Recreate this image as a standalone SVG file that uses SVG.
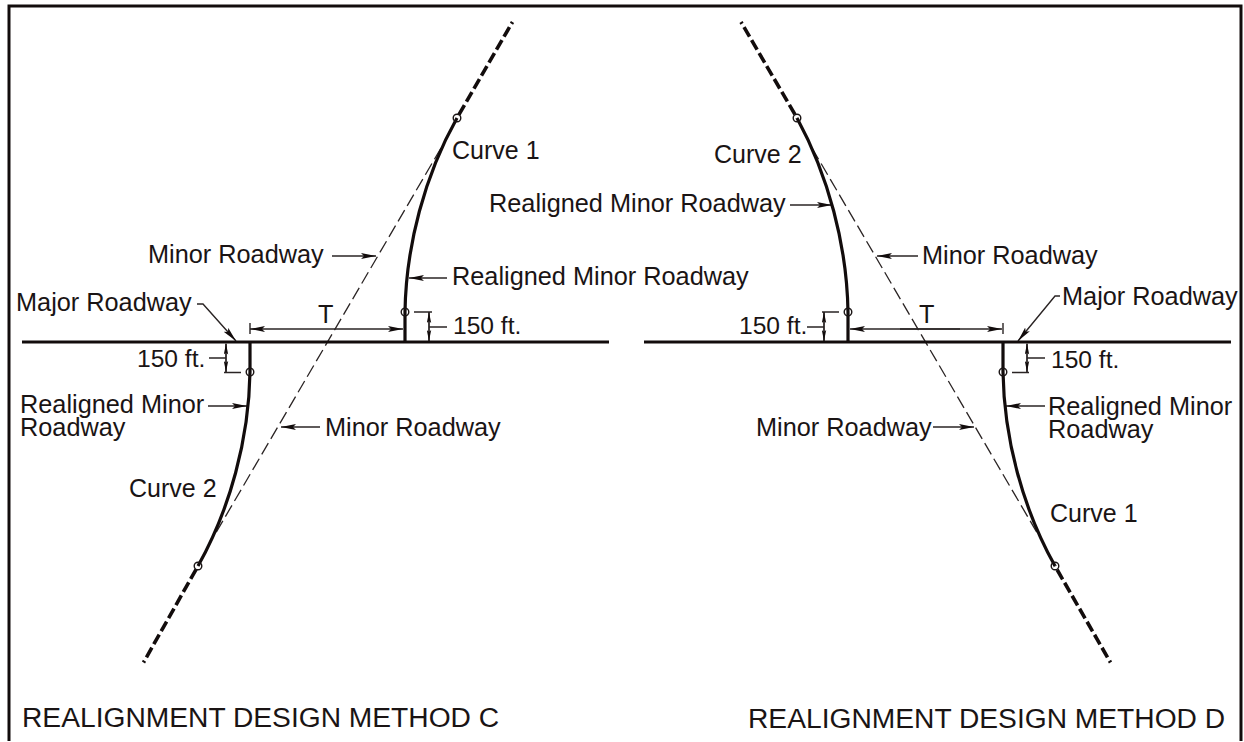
<svg xmlns="http://www.w3.org/2000/svg" width="1244" height="742" viewBox="0 0 1244 742">
<style>
text{font-family:"Liberation Sans",Arial,sans-serif;font-size:25.3px;fill:#1a1414}
.c{font-size:25px}
.f{font-size:24.6px}
.t{font-size:28.2px}
.road{fill:none;stroke:#120c0c;stroke-width:3.2}
.thickdash{fill:none;stroke:#120c0c;stroke-width:3.6;stroke-dasharray:11 4;stroke-dashoffset:9}
.thin{fill:none;stroke:#2a2424;stroke-width:1.3;stroke-dasharray:13 5}
.lead{fill:none;stroke:#2a2424;stroke-width:1.4}
.lead-a{fill:none;stroke:#2a2424;stroke-width:1.4;marker-end:url(#a)}
.dim{fill:none;stroke:#2a2424;stroke-width:1.2;marker-end:url(#b)}
.pt{fill:none;stroke:#1a1414;stroke-width:1.4}
</style>
<defs>
<marker id="a" viewBox="0 0 15 6" refX="15" refY="3" markerWidth="15" markerHeight="6" markerUnits="userSpaceOnUse" orient="auto"><path d="M0 0L15 3L0 6L3 3Z" fill="#120c0c"/></marker>
<marker id="b" viewBox="0 0 11 5" refX="11" refY="2.5" markerWidth="11" markerHeight="5" markerUnits="userSpaceOnUse" orient="auto"><path d="M0 0.3L11 2.5L0 4.7L2 2.5Z" fill="#120c0c"/></marker>
</defs>
<rect width="1244" height="742" fill="#fff"/>
<path id="frame" d="M9 741V6H1241V741" fill="none" stroke="#120c0c" stroke-width="3"/>
<g id="connectors">
<path class="thin" d="M441 148L214 536"/>
<path class="thin" d="M812 148L1039 536"/>
<path class="lead-a" d="M332 256H376"/>
<path class="lead-a" d="M197 304H203L236 341"/>
<path class="lead-a" d="M208 406H247"/>
<path class="lead-a" d="M320 427H281"/>
<path class="lead-a" d="M447 278H409"/>
<path class="lead-a" d="M790 205H832"/>
<path class="lead-a" d="M918 256H877"/>
<path class="lead-a" d="M1060 296H1055L1018 341"/>
<path class="lead-a" d="M1045 406H1006"/>
<path class="lead-a" d="M933 427H974"/>
<path class="lead" d="M250 323V334M1003 323V334"/>
<path class="lead-a" d="M290 329H250"/>
<path class="lead-a" d="M290 329H403"/>
<path class="lead-a" d="M960 329H850"/>
<path class="lead-a" d="M900 329H1002"/>
<path class="lead" d="M224 372.500H241M226 344V372M209 358H226"/>
<path class="dim" d="M226 358V343.500"/>
<path class="dim" d="M226 358V372"/>
<path class="lead" d="M414 312H432M429 312V341M429 327H447"/>
<path class="dim" d="M429 327V312"/>
<path class="dim" d="M429 327V341"/>
<path class="lead" d="M839 312H822M824 312V341M807 327H824"/>
<path class="dim" d="M824 327V312"/>
<path class="dim" d="M824 327V341"/>
<path class="lead" d="M1012 372.500H1029M1027 344V372M1027 358H1045"/>
<path class="dim" d="M1027 358V343.500"/>
<path class="dim" d="M1027 358V372"/>
</g>
<g id="method-c">
<path class="road" d="M22 342H609"/>
<path class="road" d="M405 342V312C406 245 425 175 457 118"/>
<path class="road" d="M250 342V372C249 439 230 509 198 566"/>
<path class="thickdash" d="M512.500 22L457 118"/>
<path class="thickdash" d="M143.500 662.500L198 566"/>
<circle class="pt" cx="405" cy="312" r="3.8"/><circle class="pt" cx="250" cy="372" r="3.8"/><circle class="pt" cx="457" cy="118" r="3.8"/><circle class="pt" cx="198" cy="566" r="3.8"/>
</g>
<g id="method-d">
<path class="road" d="M644 342H1231"/>
<path class="road" d="M848 342V312C847 245 828 175 797 118"/>
<path class="road" d="M1003 342V372C1004 439 1023 509 1055 566"/>
<path class="thickdash" d="M741 22L797 118"/>
<path class="thickdash" d="M1110.500 662.500L1055 566"/>
<circle class="pt" cx="848" cy="312" r="3.8"/><circle class="pt" cx="1003" cy="372" r="3.8"/><circle class="pt" cx="797" cy="118" r="3.8"/><circle class="pt" cx="1055" cy="566" r="3.8"/>
</g>
<g id="labels">
<text class="c" x="452" y="159">Curve 1</text>
<text x="148" y="263">Minor Roadway</text>
<text x="452" y="285">Realigned Minor Roadway</text>
<text x="16" y="311">Major Roadway</text>
<text x="318" y="323">T</text>
<text class="f" x="453" y="334">150 ft.</text>
<text class="f" x="137" y="367">150 ft.</text>
<text x="20" y="413">Realigned Minor<tspan x="20" dy="23">Roadway</tspan></text>
<text x="325" y="436">Minor Roadway</text>
<text class="c" x="129" y="497">Curve 2</text>
<text class="c" x="714" y="163">Curve 2</text>
<text x="489" y="212">Realigned Minor Roadway</text>
<text x="922" y="264">Minor Roadway</text>
<text x="1062" y="305">Major Roadway</text>
<text class="f" x="739" y="334">150 ft.</text>
<text x="919" y="323">T</text>
<text class="f" x="1051" y="368">150 ft.</text>
<text x="1048" y="415">Realigned Minor<tspan x="1048" dy="23">Roadway</tspan></text>
<text x="756" y="436">Minor Roadway</text>
<text class="c" x="1050" y="522">Curve 1</text>
<text class="t" x="22" y="727">REALIGNMENT DESIGN METHOD C</text>
<text class="t" x="748" y="728">REALIGNMENT DESIGN METHOD D</text>
</g>
</svg>
